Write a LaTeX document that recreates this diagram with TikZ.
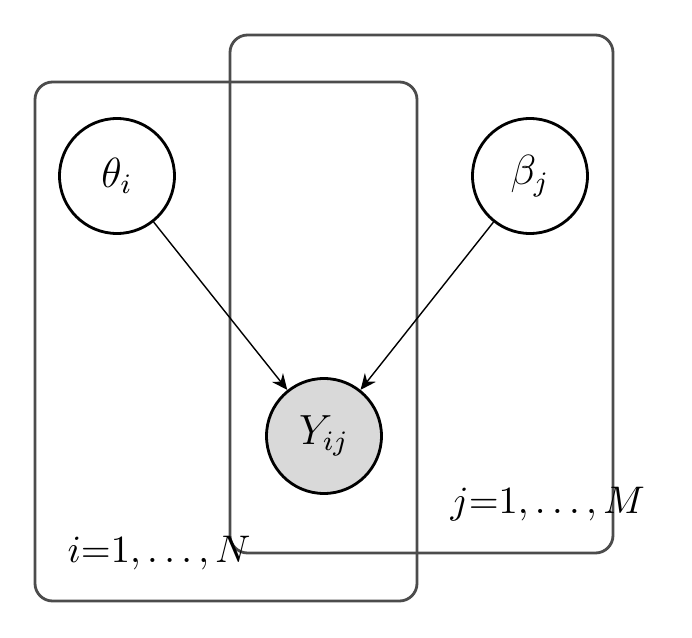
\documentclass[tikz,border=0pt]{standalone}
\usepackage{amsmath}
\usepackage{amssymb}
\usepackage{xcolor}
\usepackage{tikz}
\usetikzlibrary{arrows.meta,shapes.misc}

\tikzset{
    latent/.style={circle, draw=black, thick, minimum size=1.15cm, inner sep=0pt, font=\large},
    observed/.style={latent, fill=black!15},
    plate/.style={draw=black!70, thick, rounded corners=5pt},
    platelabel/.style={anchor=base west, inner sep=0pt, font=\fontsize{11}{13}\selectfont}
}

\begin{document}
\begin{tikzpicture}[>={Stealth[length=4.5pt,width=4pt,inset=1.5pt]},x=1cm,y=1cm]
                \useasboundingbox (0,0) rectangle (6.92,6.37);

                \coordinate (A) at (1.17,4.61);
                \coordinate (B) at (5.30,4.61);
                \coordinate (C) at (3.24,2.01);

                % plates
                \draw[plate] (0.35,0.36) rectangle (4.17,5.55);
                \draw[plate] (2.30,0.84) rectangle (6.13,6.02);

                \node[latent] (theta) at (A) {$\theta_i$};
                \node[latent] (beta) at (B) {$\beta_j$};
                \node[observed] (y) at (C) {$Y_{ij}$};

                \draw[->] (theta)--(y);
                \draw[->] (beta)--(y);

                \node[platelabel] (iplate) at (0.67,0.75) {$i{=}1,\ldots,N$}; % plate i
                \node[platelabel] (jplate) at (4.50,1.24) {$j{=}1,\ldots,M$}; % plate j
             \end{tikzpicture}
\end{document}
